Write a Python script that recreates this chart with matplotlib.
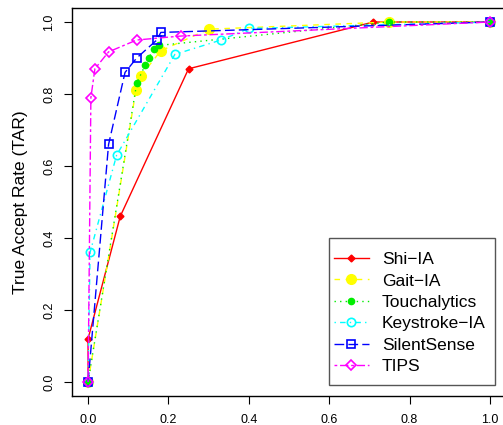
import matplotlib
matplotlib.use('Agg')
import matplotlib.pyplot as plt
from matplotlib.patches import Rectangle

plt.rcParams['font.family'] = ['Liberation Sans', 'DejaVu Sans']

# ROC-style points (x = false accept rate, y = TAR)
shi_x = [0.0, 0.0, 0.08, 0.25, 0.71, 1.0]
shi_y = [0.0, 0.12, 0.46, 0.87, 1.0, 1.0]

gait_x = [0.0, 0.119, 0.131, 0.181, 0.30, 0.75, 1.0]
gait_y = [0.0, 0.81, 0.85, 0.92, 0.98, 1.0, 1.0]

touch_x = [0.0, 0.121, 0.142, 0.151, 0.163, 0.177, 0.75, 1.0]
touch_y = [0.0, 0.83, 0.88, 0.90, 0.925, 0.935, 1.0, 1.0]

key_x = [0.0, 0.005, 0.071, 0.216, 0.331, 0.40, 1.0]
key_y = [0.0, 0.36, 0.63, 0.91, 0.95, 0.982, 1.0]

silent_x = [0.0, 0.051, 0.092, 0.121, 0.171, 0.181, 1.0]
silent_y = [0.0, 0.66, 0.86, 0.90, 0.95, 0.971, 1.0]

tips_x = [0.0, 0.007, 0.017, 0.051, 0.121, 0.231, 1.0]
tips_y = [0.0, 0.79, 0.87, 0.917, 0.95, 0.961, 1.0]

ticks = [0.0, 0.2, 0.4, 0.6, 0.8, 1.0]
tick_labels = ['0.0', '0.2', '0.4', '0.6', '0.8', '1.0']

fig = plt.figure(figsize=(5.03, 4.25), dpi=100)
W, H = 503.0, 425.0
ax = fig.add_axes([72 / W, (H - 396.4) / H, (506 - 72) / W, (396.4 - 7.6) / H])

lw = 1.0
ax.plot(shi_x, shi_y, color='red', linestyle='-', lw=lw, marker='D',
        markersize=3.5, mfc='red', mec='red', label='Shi\u2212IA')
ax.plot(gait_x, gait_y, color='yellow', linestyle=(0, (4, 4)), lw=lw, marker='o',
        markersize=7, mfc='yellow', mec='yellow', label='Gait\u2212IA')
ax.plot(touch_x, touch_y, color='#00ee00', linestyle=(0, (1, 3)), lw=lw, marker='o',
        markersize=4.5, mfc='#00ee00', mec='#00ee00', label='Touchalytics')
ax.plot(key_x, key_y, color='cyan', linestyle=(0, (1, 3, 4, 3)), lw=lw, marker='o',
        markersize=6, mfc='none', mec='cyan', mew=1.2, label='Keystroke\u2212IA')
ax.plot(silent_x, silent_y, color='blue', linestyle=(0, (7, 3)), lw=lw, marker='s',
        markersize=5.5, mfc='none', mec='blue', mew=1.2, label='SilentSense')
ax.plot(tips_x, tips_y, color='magenta', linestyle=(0, (2, 2, 6, 2)), lw=lw, marker='D',
        markersize=5.5, mfc='none', mec='magenta', mew=1.2, label='TIPS')

ax.set_xlim(-0.04, 1.04)
ax.set_ylim(-0.04, 1.04)
ax.set_xticks(ticks)
ax.set_xticklabels(tick_labels, fontsize=9)
ax.set_yticks(ticks)
ax.set_yticklabels(tick_labels, fontsize=9, rotation=90, va='center')
ax.tick_params(direction='out', length=6, width=0.8)
ax.tick_params(axis='x', pad=6.6)
ax.tick_params(axis='y', pad=6)
for s in ax.spines.values():
    s.set_linewidth(1.0)
ax.set_ylabel('True Accept Rate (TAR)', fontsize=12.5, labelpad=11)

# legend box drawn like R's: frame in figure pixels, entries placed inside
fig.patches.append(Rectangle((329 / W, (H - 385) / H), (495 - 329) / W, (385 - 238) / H,
                             transform=fig.transFigure, fill=False,
                             edgecolor='#555555', linewidth=1.0, zorder=5))
leg = fig.legend(*ax.get_legend_handles_labels(), loc='upper left',
                 bbox_to_anchor=(334 / W, (H - 252) / H),
                 fontsize=12.5, frameon=False,
                 handlelength=2.0, handletextpad=0.75, labelspacing=0.36,
                 borderpad=0, borderaxespad=0)

fig.savefig('out.png', dpi=100)
